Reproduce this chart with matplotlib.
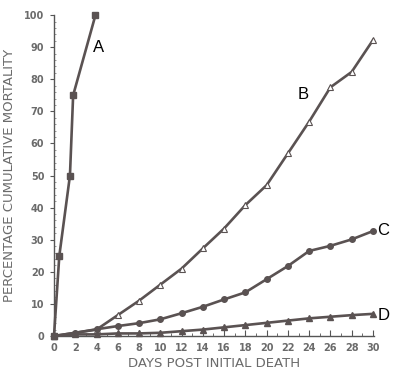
import matplotlib
matplotlib.use("Agg")
import matplotlib.pyplot as plt
from matplotlib.ticker import MultipleLocator

# Data
a_days = [0, 0.5, 1.5, 1.8, 3.9]
a_vals = [0, 25, 50, 75, 100]

b_days = [0, 2, 4, 6, 8, 10, 12, 14, 16, 18, 20, 22, 24, 26, 28, 30]
b_vals = [0, 1, 2, 6.5, 11, 16, 21, 27.3, 33.5, 40.8, 47, 56.9, 66.8, 77.5, 82.3, 92.2]

c_days = [0, 2, 4, 6, 8, 10, 12, 14, 16, 18, 20, 22, 24, 26, 28, 30]
c_vals = [0, 1, 2.1, 3.1, 4.0, 5.2, 7.1, 9.1, 11.4, 13.6, 17.7, 21.8, 26.5, 28.1, 30.1, 32.7]

d_days = [0, 2, 4, 6, 8, 10, 12, 14, 16, 18, 20, 22, 24, 26, 28, 30]
d_vals = [0, 0.5, 0.5, 0.8, 0.8, 1.0, 1.5, 2.0, 2.7, 3.4, 4.1, 4.8, 5.5, 6.0, 6.5, 6.9]

x_ticks = list(range(0, 31, 2))
y_ticks = list(range(0, 101, 10))

line_col = "#5a5252"
txt_col = "#6b6b6b"

fig = plt.figure(figsize=(4.0, 3.74), dpi=100)
ax = fig.add_axes([0.135, 0.1016, 0.80, 0.858])

kw = dict(color=line_col, lw=1.9, markersize=4, markeredgecolor=line_col, clip_on=False, zorder=3)
ax.plot(a_days, a_vals, marker="s", markerfacecolor=line_col, **kw)
ax.plot(b_days, b_vals, marker="^", markerfacecolor="white", markeredgewidth=0.8, **kw)
ax.plot(c_days, c_vals, marker="o", markerfacecolor=line_col, **kw)
ax.plot(d_days, d_vals, marker="^", markerfacecolor=line_col, **kw)

lab_kw = dict(fontsize=12, color="black", family="Liberation Sans")
ax.text(3.7, 88.5, "A", **lab_kw)
ax.text(22.9, 74.0, "B", **lab_kw)
ax.text(30.4, 33, "C", va="center", **lab_kw)
ax.text(30.4, 6.5, "D", va="center", **lab_kw)

ax.set_xlim(0, 30.1)
ax.set_ylim(0, 100)
ax.set_xticks(x_ticks)
ax.set_yticks(y_ticks)
ax.xaxis.set_minor_locator(MultipleLocator(1))
ax.yaxis.set_minor_locator(MultipleLocator(2))

for s in ["top", "right"]:
    ax.spines[s].set_visible(False)
for s in ["left", "bottom"]:
    ax.spines[s].set_color("#555555")
    ax.spines[s].set_linewidth(1.0)

ax.tick_params(axis="x", which="major", direction="in", length=4, color="#555555",
               labelsize=7, labelcolor=txt_col, pad=5)
ax.tick_params(axis="x", which="minor", direction="in", length=2, color="#555555")
ax.tick_params(axis="y", which="major", direction="out", length=3, color="#555555",
               labelsize=7, labelcolor=txt_col, pad=4)
ax.tick_params(axis="y", which="minor", direction="in", length=1.5, color="#888888")

for lbl in ax.get_xticklabels() + ax.get_yticklabels():
    lbl.set_fontweight("bold")

ax.set_xlabel("DAYS POST INITIAL DEATH", fontsize=9.5, color=txt_col, labelpad=3)
ax.set_ylabel("PERCENTAGE CUMULATIVE MORTALITY", fontsize=9.5, color=txt_col, labelpad=6)

fig.savefig("out.png", dpi=100)
